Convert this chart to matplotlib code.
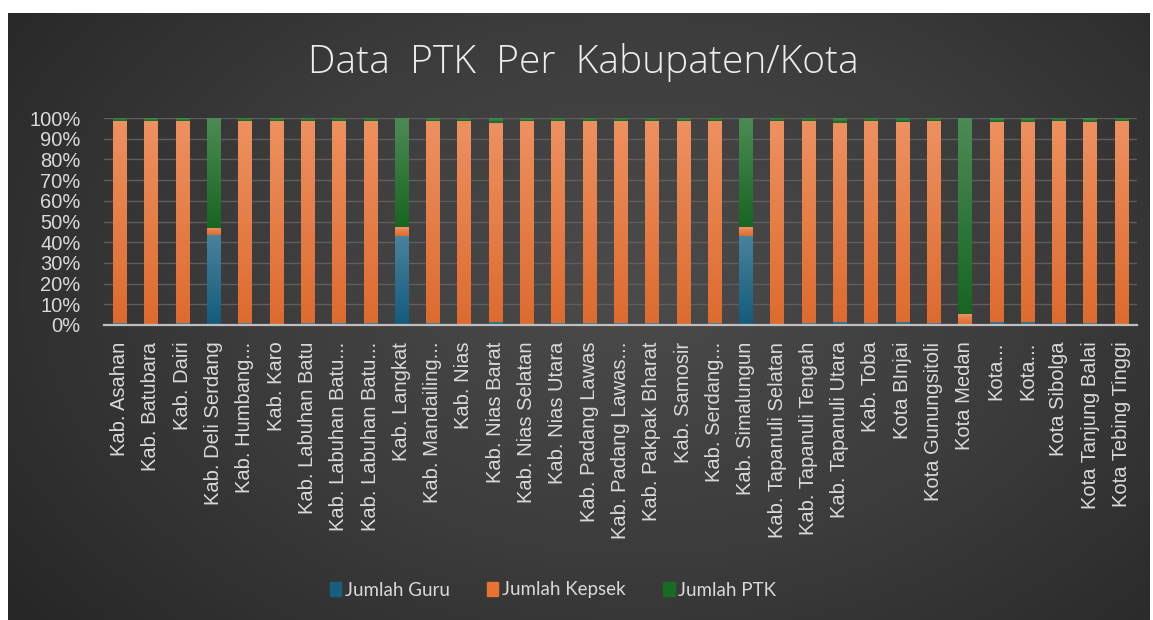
import numpy as np
import matplotlib
matplotlib.use('Agg')
import matplotlib.pyplot as plt
from matplotlib.patches import Patch
from matplotlib.colors import LinearSegmentedColormap, to_rgb

# ── data (share of each bar, %) ─────────────────────────
categories = [
    "Kab. Asahan", "Kab. Batubara", "Kab. Dairi", "Kab. Deli Serdang",
    "Kab. Humbang...", "Kab. Karo", "Kab. Labuhan Batu", "Kab. Labuhan Batu...",
    "Kab. Labuhan Batu...", "Kab. Langkat", "Kab. Mandailing...", "Kab. Nias",
    "Kab. Nias Barat", "Kab. Nias Selatan", "Kab. Nias Utara", "Kab. Padang Lawas",
    "Kab. Padang Lawas...", "Kab. Pakpak Bharat", "Kab. Samosir", "Kab. Serdang...",
    "Kab. Simalungun", "Kab. Tapanuli Selatan", "Kab. Tapanuli Tengah",
    "Kab. Tapanuli Utara", "Kab. Toba", "Kota BInjai", "Kota Gunungsitoli",
    "Kota Medan", "Kota...", "Kota...", "Kota Sibolga", "Kota Tanjung Balai",
    "Kota Tebing Tinggi",
]
guru = [0.8, 0.7, 0.8, 43.5, 0.8, 0.7, 0.8, 0.9, 0.8, 43.0, 0.8, 0.7,
        1.6, 0.7, 0.8, 0.8, 0.9, 0.8, 0.7, 0.9, 43.0, 0.7, 0.8,
        1.6, 0.8, 1.6, 0.8, 0.5, 1.5, 1.5, 0.8, 0.8, 0.7]
ptk = [1.5, 1.4, 1.4, 53.0, 1.5, 1.4, 1.5, 1.5, 1.5, 52.8, 1.4, 1.5,
       2.4, 1.4, 1.5, 1.5, 1.5, 1.5, 1.4, 1.5, 52.8, 1.5, 1.5,
       2.2, 1.5, 2.0, 1.5, 94.7, 1.8, 1.8, 1.5, 1.8, 1.5]
kepsek = [100 - g - p for g, p in zip(guru, ptk)]

series = [("Jumlah Guru", guru, "#156082"),
          ("Jumlah Kepsek", kepsek, "#E97132"),
          ("Jumlah PTK", ptk, "#196B24")]

W, H = 1153, 620
fig = plt.figure(figsize=(W / 100, H / 100), dpi=100)
fig.patch.set_facecolor('white')

# dark radial background inside the white border
bg = fig.add_axes([8 / W, 0, 1142 / W, 607 / H])
yy, xx = np.mgrid[0:1:300j, 0:1:600j]
r = np.clip(np.sqrt(((xx - 0.55) / 0.7) ** 2 + ((yy - 0.45) / 0.9) ** 2), 0, 1)
bg_cmap = LinearSegmentedColormap.from_list('bg', ['#4b4b4b', '#3c3c3c', '#262626'])
bg.imshow(r, cmap=bg_cmap, aspect='auto', extent=[0, 1, 0, 1], vmin=0, vmax=1)
bg.axis('off')

ax = fig.add_axes([104 / W, 1 - 325 / H, (1137 - 104) / W, (325 - 118) / H])
ax.set_facecolor('none')
x = np.arange(len(categories))
bottom = np.zeros(len(categories))
bar_sets = []
for name, vals, col in series:
    bars = ax.bar(x, vals, width=0.42, bottom=bottom, color=col, label=name,
                  zorder=3, linewidth=0)
    bar_sets.append((bars, col))
    bottom += np.array(vals)


def shade(c, f):
    c = np.array(to_rgb(c))
    return tuple(c + (1 - c) * f) if f > 0 else tuple(c * (1 + f))


# soft vertical gradient on each bar, lighter at the top
for bars, col in bar_sets:
    cm = LinearSegmentedColormap.from_list('g', [shade(col, -0.05), shade(col, 0.22)])
    for p in bars:
        bx, by, bw, bh = p.get_x(), p.get_y(), p.get_width(), p.get_height()
        if bh <= 0:
            continue
        im = ax.imshow(np.linspace(0, 1, 64).reshape(-1, 1), cmap=cm, origin='lower',
                       extent=[bx, bx + bw, by, by + bh], aspect='auto', zorder=3.5)
        im.set_clip_path(p)

ax.set_xlim(-0.5, len(categories) - 0.5)
ax.set_ylim(0, 100)
ax.set_yticks(np.arange(0, 101, 10))
ax.set_yticklabels([f"{v}%" for v in range(0, 101, 10)])
ax.set_xticks(x)
ax.set_xticklabels(categories, rotation=90)
ax.tick_params(length=0, labelcolor='#d9d9d9', labelsize=14.5)
ax.tick_params(axis='y', pad=17)
ax.tick_params(axis='x', pad=12)
for lab in ax.get_xticklabels() + ax.get_yticklabels():
    lab.set_fontfamily('Liberation Sans')
ax.grid(axis='y', color='#5e5e5e', linewidth=1, zorder=0)
for s in ['top', 'right', 'left']:
    ax.spines[s].set_visible(False)
ax.spines['bottom'].set_color('#bfbfbf')
ax.spines['bottom'].set_linewidth(1.6)
ax.spines['bottom'].set_zorder(4)

fig.text(583 / W, 1 - 62 / H, "Data  PTK  Per  Kabupaten/Kota", ha='center', va='center',
         fontsize=28, color='#ededed', family='Open Sans', fontweight='light')

handles = [Patch(color=c, label=n) for n, _, c in series]
fig.legend(handles=handles, loc='center', bbox_to_anchor=(553 / W, 1 - 590 / H),
           ncol=3, frameon=False, labelcolor='#d9d9d9',
           handlelength=0.6, handleheight=0.7, handletextpad=0.2, columnspacing=2.0,
           prop={'family': 'Lato', 'size': 13.5})

fig.savefig('out.png', dpi=100)
